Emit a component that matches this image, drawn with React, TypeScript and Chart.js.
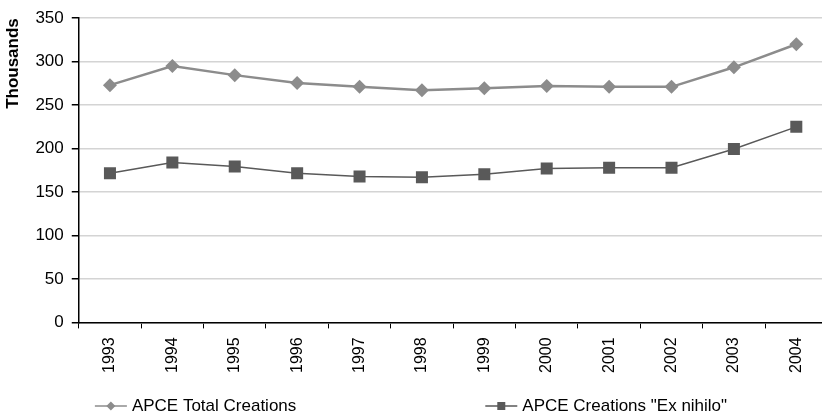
import React, { useEffect, useRef } from "react";
import { Chart, registerables } from "chart.js";

Chart.register(...registerables);

const years = ["1993", "1994", "1995", "1996", "1997", "1998", "1999", "2000", "2001", "2002", "2003", "2004"];
const totalCreations = [273, 295, 284.5, 275.5, 271, 267, 269.5, 272, 271, 271, 293.5, 320];
const exNihilo = [171.5, 184, 179.5, 171.5, 168, 167, 170.5, 177, 178, 178, 199.5, 225];
const seriesNames = ["APCE Total Creations", "APCE Creations \"Ex nihilo\""];
const yTitle = "Thousands";

const FONT = "'Liberation Sans', Arial, sans-serif";
const VIEW_W = 822;

const legendPlugin = {
  id: "excelLegend",
  afterDraw(chart: any) {
    const ctx = chart.ctx as CanvasRenderingContext2D;
    const ds = chart.data.datasets;
    const iconW = 32;
    const gapText = 5;
    const gapItems = 189;
    const y = 406;
    ctx.save();
    ctx.font = `17px ${FONT}`;
    ctx.textBaseline = "middle";
    ctx.textAlign = "left";
    const widths = ds.map((d: any) => iconW + gapText + ctx.measureText(d.label).width);
    const total = widths.reduce((a: number, b: number) => a + b, 0) + gapItems * (ds.length - 1);
    let x = (VIEW_W - total) / 2;
    ds.forEach((d: any, i: number) => {
      const color = d.borderColor as string;
      ctx.strokeStyle = color;
      ctx.lineWidth = 1.5;
      ctx.beginPath();
      ctx.moveTo(x, y);
      ctx.lineTo(x + iconW, y);
      ctx.stroke();
      ctx.fillStyle = color;
      ctx.beginPath();
      const cx = x + iconW / 2;
      if (d.pointStyle === "rectRot") {
        ctx.moveTo(cx, y - 4.5);
        ctx.lineTo(cx + 4.5, y);
        ctx.lineTo(cx, y + 4.5);
        ctx.lineTo(cx - 4.5, y);
        ctx.closePath();
      } else {
        ctx.rect(cx - 4, y - 4, 8, 8);
      }
      ctx.fill();
      ctx.fillStyle = "#000";
      ctx.fillText(d.label, x + iconW + gapText, y);
      x += widths[i] + gapItems;
    });
    ctx.restore();
  },
};

export default function App() {
  const ref = useRef<HTMLCanvasElement | null>(null);
  useEffect(() => {
    document.body.style.overflow = "hidden";
    const chart = new Chart(ref.current!, {
      type: "line",
      data: {
        labels: years,
        datasets: [
          {
            label: seriesNames[0],
            data: totalCreations,
            borderColor: "#8c8c8c",
            backgroundColor: "#8c8c8c",
            borderWidth: 2.5,
            pointStyle: "rectRot",
            pointRadius: 7,
            pointBorderWidth: 0,
            tension: 0,
          },
          {
            label: seriesNames[1],
            data: exNihilo,
            borderColor: "#595959",
            backgroundColor: "#595959",
            borderWidth: 1.5,
            pointStyle: "rect",
            pointRadius: 8.5,
            pointBorderWidth: 0,
            tension: 0,
          },
        ],
      },
      options: {
        animation: false,
        responsive: false,
        maintainAspectRatio: false,
        layout: { padding: { left: 3, top: 15, right: 0, bottom: 33 } },
        plugins: {
          tooltip: { enabled: false },
          legend: { display: false },
        },
        scales: {
          x: {
            offset: true,
            grid: { drawOnChartArea: false, drawTicks: true, offset: true, tickLength: 6, color: "#000" },
            border: { color: "#000", width: 1.5 },
            ticks: {
              minRotation: 90,
              maxRotation: 90,
              color: "#000",
              padding: 9,
              font: { family: FONT, size: 16 },
            },
          },
          y: {
            min: 0,
            max: 350,
            ticks: {
              stepSize: 50,
              color: "#000",
              padding: 8,
              font: { family: FONT, size: 17 },
            },
            grid: { color: "#d4d4d4", lineWidth: 1.5, tickColor: "#000", tickLength: 7 },
            border: { color: "#000", width: 1.5 },
            title: {
              display: true,
              text: yTitle,
              align: "end",
              color: "#000",
              padding: { top: 0, bottom: 4 },
              font: { family: FONT, size: 17, weight: "bold" },
            },
          },
        },
      },
      plugins: [legendPlugin],
    });
    return () => chart.destroy();
  }, []);
  return (
    <div style={{ position: "absolute", left: 0, top: 0, width: 836, height: 415 }}>
      <canvas ref={ref} width={836} height={415} style={{ width: 836, height: 415 }} />
    </div>
  );
}
